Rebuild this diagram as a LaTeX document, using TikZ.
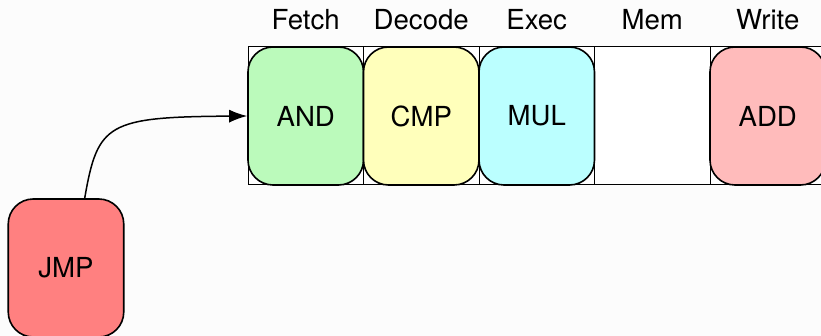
\documentclass[tikz,border=0pt]{standalone}
\usepackage{fontspec}
\setmainfont{TeX Gyre Heros}
\usepackage{tikz}
\usetikzlibrary{positioning, arrows.meta}
\definecolor{bgcol}{RGB}{252,252,252}
\definecolor{andcol}{RGB}{187,250,187}
\definecolor{cmpcol}{RGB}{255,255,187}
\definecolor{mulcol}{RGB}{187,255,255}
\definecolor{addcol}{RGB}{255,187,187}
\definecolor{jmpcol}{RGB}{255,128,128}
\tikzstyle{stage} = [rectangle, minimum width=57.75pt, minimum height=69pt, draw=black, line width=0.5pt, fill=white, inner sep=0pt, outer sep=0pt]
\tikzstyle{instr} = [rectangle, rounded corners=12.5pt, minimum width=57.75pt, minimum height=69pt, draw=black, line width=0.8pt, inner sep=0pt, font=\fontsize{13.8}{16}\selectfont]
\tikzstyle{stagename} = [inner sep=0pt, font=\fontsize{13.8}{16}\selectfont]
\tikzstyle{arrow} = [line width=0.75pt, -{Latex[length=9pt,width=6.5pt]}]

\begin{document}
\begin{tikzpicture}[x=0.5pt, y=-0.5pt, node distance=0pt]
    \fill[bgcol] (0,0) rectangle (821,336);
    \useasboundingbox (0,0) rectangle (821,336);

    % pipeline slots
    \node (fetch) [stage] at (305.75,116) {};
    \node (decode) [stage, right=0pt of fetch] {};
    \node (exec) [stage, right=0pt of decode] {};
    \node (mem) [stage, right=0pt of exec] {};
    \node (write) [stage, right=0pt of mem] {};

    \node (fetchname) [stagename, above=8.5pt of fetch] {Fetch};
    \node (decodename) [stagename, above=8.5pt of decode] {Decode};
    \node (execname) [stagename, above=8.5pt of exec] {Exec};
    \node (memname) [stagename, above=8.5pt of mem] {Mem};
    \node (writename) [stagename, above=8.5pt of write] {Write};

    % instructions in flight
    \node (and) [instr, fill=andcol] at (fetch) {AND};
    \node (cmp) [instr, fill=cmpcol] at (decode) {CMP};
    \node (mul) [instr, fill=mulcol] at (exec) {MUL};
    \node (add) [instr, fill=addcol] at (write) {ADD};

    \node (jmp) [instr, fill=jmpcol] at (66,268) {JMP};

    \draw[arrow] (jmp.75) .. controls +(13,-75) and +(-140,1) .. (and.west);
\end{tikzpicture}
\end{document}
